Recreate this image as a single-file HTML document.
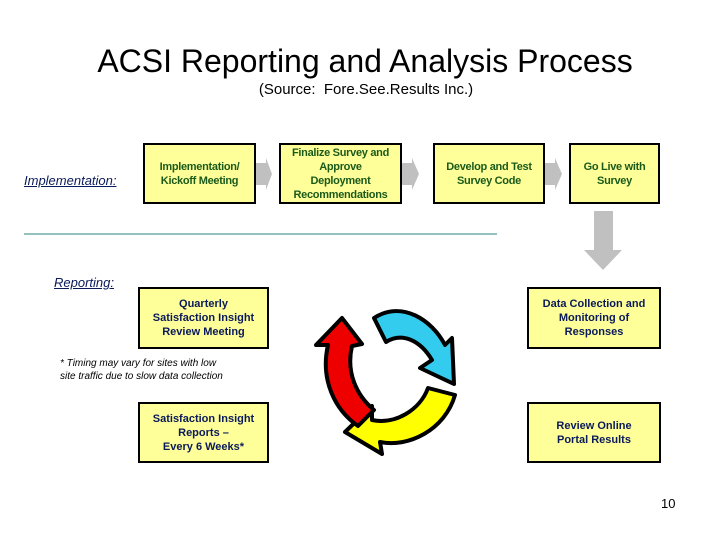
<!DOCTYPE html>
<html><head><style>
body{margin:0;width:720px;height:540px;background:#fff;position:relative;overflow:hidden;font-family:"Liberation Sans",Arial,sans-serif}
.a{position:absolute}
.box{position:absolute;background:#ffff99;border:2px solid #000;box-sizing:border-box;display:flex;align-items:center;justify-content:center;text-align:center;font-weight:bold;font-size:11px;line-height:14px}
.g{color:#1a5a1a;letter-spacing:-0.3px}
.n{color:#0a1a5a}
</style></head><body>
<div class="a" style="left:0;width:730px;top:43px;text-align:center;font-size:32px">ACSI Reporting and Analysis Process</div>
<div class="a" style="left:0;width:732px;top:81px;text-align:center;font-size:15px">(Source:&nbsp; Fore.See.Results Inc.)</div>
<div class="a" style="left:24px;top:173px;font-size:13px;font-style:italic;text-decoration:underline;color:#0a1a5a">Implementation:</div>
<svg class="a" style="left:0;top:0" width="720" height="540">
<g fill="#c0c0c0">
<polygon points="256,163 266,163 266,158 272,174 266,190 266,185 256,185"/>
<polygon points="402,163 412,163 412,158 419,174 412,190 412,185 402,185"/>
<polygon points="545,163 555,163 555,158 562,174 555,190 555,185 545,185"/>
<polygon points="594,211 613,211 613,250 622,250 603,270 584,250 594,250"/>
</g>
<line x1="24" y1="234" x2="497" y2="234" stroke="#2a8080" stroke-width="1"/>
<g stroke="#000" stroke-width="4" stroke-linejoin="round">
<path d="M374,318 C402,300 432,320 445,345 L452,338 L454,384 L420,368 L432,360 C420,340 402,332 386,342 Z" fill="#33ccee"/>
<path d="M455,395 C445,430 408,448 380,442 L382,454 L345,432 L372,406 L372,420 C395,425 420,410 428,388 Z" fill="#ffff00"/>
<path d="M358,426 C335,410 320,380 328,345 L316,345 L342,318 L362,344 L352,346 C346,372 356,395 374,410 Z" fill="#ee0000"/>
</g>
</svg>
<div class="box g" style="left:143px;top:143px;width:113px;height:61px">Implementation/<br>Kickoff Meeting</div>
<div class="box g" style="left:279px;top:143px;width:123px;height:61px">Finalize Survey and<br>Approve<br>Deployment<br>Recommendations</div>
<div class="box g" style="left:433px;top:143px;width:112px;height:61px">Develop and Test<br>Survey Code</div>
<div class="box g" style="left:569px;top:143px;width:91px;height:61px">Go Live with<br>Survey</div>
<div class="a" style="left:54px;top:275px;font-size:13px;font-style:italic;text-decoration:underline;color:#0a1a5a">Reporting:</div>
<div class="box n" style="left:138px;top:287px;width:131px;height:62px">Quarterly<br>Satisfaction Insight<br>Review Meeting</div>
<div class="box n" style="left:527px;top:287px;width:134px;height:62px">Data Collection and<br>Monitoring of<br>Responses</div>
<div class="a" style="left:60px;top:357px;font-size:10px;font-style:italic;line-height:13px">* Timing may vary for sites with low<br>site traffic due to slow data collection</div>
<div class="box n" style="left:138px;top:402px;width:131px;height:61px">Satisfaction Insight<br>Reports –<br>Every 6 Weeks*</div>
<div class="box n" style="left:527px;top:402px;width:134px;height:61px">Review Online<br>Portal Results</div>
<div class="a" style="left:661px;top:496px;font-size:13px">10</div>
</body></html>
